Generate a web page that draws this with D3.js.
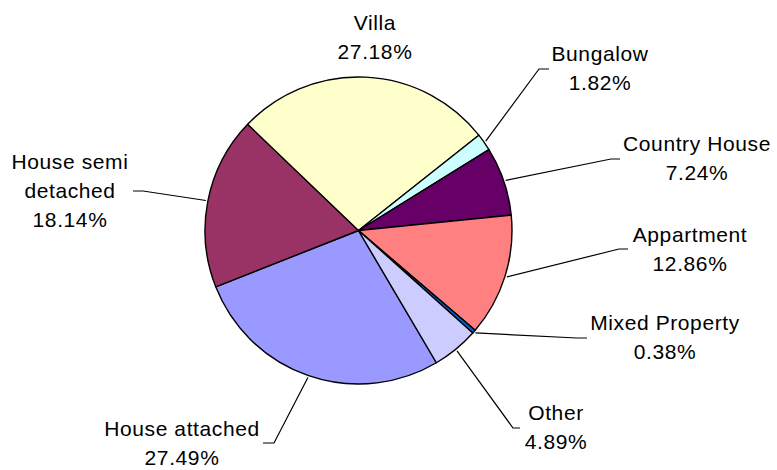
<!DOCTYPE html>
<html>
<head>
<meta charset="utf-8">
<script src="https://cdn.jsdelivr.net/npm/d3@7"></script>
<style>
body { margin: 0; background: #fff; }
text { font-family: Arial, "Liberation Sans", sans-serif; font-size: 21px; letter-spacing: 0.6px; fill: #000; }
</style>
</head>
<body>
<script>
// data, in Excel series order (first slice = House attached)
var categories = ["House attached", "House semi detached", "Villa", "Bungalow", "Country House", "Appartment", "Mixed Property", "Other"];
var shares = [27.49, 18.14, 27.18, 1.82, 7.24, 12.86, 0.38, 4.89];
var colours = ["#9999FF", "#993366", "#FFFFCC", "#CCFFFF", "#660066", "#FF8080", "#0066CC", "#CCCCFF"];

// label layout: text centre, first baseline, leader elbow (null = no leader)
var labelLines = [["House attached"], ["House semi", "detached"], ["Villa"], ["Bungalow"], ["Country House"], ["Appartment"], ["Mixed Property"], ["Other"]];
var labelX = [182, 70, 375, 600, 697, 690, 665, 556];
var labelY = [436, 169, 30, 61, 151, 242, 330, 420];
var elbowX = [274, 143, null, 539, 611, 619, 577, 513];
var elbowY = [443, 191, null, 69, 159, 249, 338, 428];
var tailX = [263, 133, null, 549, 620, 628, 587, 520];

var w = 777, h = 470;
var cx = 358.5, cy = 230.5, r = 153.5;
var lineGap = 29;

var svg = d3.select("body").append("svg")
	.attr("width", w)
	.attr("height", h);

var g = svg.append("g").attr("transform", "translate(" + cx + "," + cy + ")");

var start = 149.5 * Math.PI / 180;
var pie = d3.pie().sort(null).value(function(d){ return d; })
	.startAngle(start).endAngle(start + 2 * Math.PI);
var arcs = pie(shares);

var arc = d3.arc().innerRadius(0).outerRadius(r);

g.selectAll("path.slice")
	.data(arcs)
	.enter()
	.append("path")
	.attr("class", "slice")
	.attr("d", arc)
	.attr("fill", function(d, i){ return colours[i]; })
	.attr("stroke", "#000")
	.attr("stroke-width", 1.4)
	.attr("stroke-linejoin", "round");

// leader lines
arcs.forEach(function(d, i){
	if (elbowX[i] === null) return;
	var a = (d.startAngle + d.endAngle) / 2;
	var x0 = cx + (r + 2) * Math.sin(a);
	var y0 = cy - (r + 2) * Math.cos(a);
	svg.append("polyline")
		.attr("points", [[x0, y0], [elbowX[i], elbowY[i]], [tailX[i], elbowY[i]]].join(" "))
		.attr("fill", "none")
		.attr("stroke", "#000")
		.attr("stroke-width", 1.2);
});

// labels
arcs.forEach(function(d, i){
	var t = svg.append("text")
		.attr("text-anchor", "middle")
		.attr("x", labelX[i])
		.attr("y", labelY[i]);
	var lines = labelLines[i].concat([shares[i].toFixed(2) + "%"]);
	lines.forEach(function(s, k){
		t.append("tspan")
			.attr("x", labelX[i])
			.attr("dy", k === 0 ? 0 : lineGap)
			.text(s);
	});
});
</script>
</body>
</html>
